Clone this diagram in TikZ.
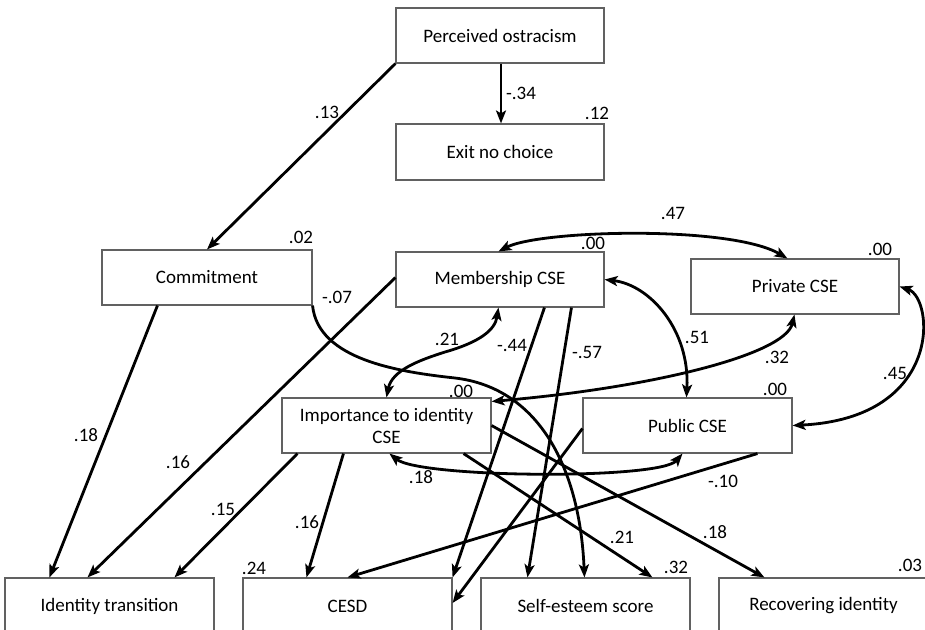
\documentclass[tikz,border=0pt]{standalone}
\usepackage{fontspec}
\setmainfont{Carlito}
\usetikzlibrary{arrows.meta}
\begin{document}
\begin{tikzpicture}[x=1pt,y=-1pt,
  box/.style={draw=black!62, line width=1.1pt, fill=white, minimum height=55pt, inner sep=0pt, align=center, font=\fontsize{19}{22}\selectfont},
  lbl/.style={font=\fontsize{19}{22}\selectfont, inner sep=0pt},
  tip/.tip={Stealth[length=13pt,width=10pt,inset=3pt]},
  path1/.style={line width=2.8pt, -tip},
  path2/.style={line width=2.8pt, tip-tip}]
\useasboundingbox (0,0) rectangle (925,629);
\clip (0,0) rectangle (925,629);
% boxes
\node[box, minimum width=208pt] (perc) at (500,35.5) {Perceived ostracism};
\node[box, minimum width=208pt, minimum height=56pt] (exit) at (500,152) {Exit no choice};
\node[box, minimum width=210pt] (comm) at (207,277.5) {Commitment};
\node[box, minimum width=208pt] (memb) at (500,279.5) {Membership CSE};
\node[box, minimum width=208pt] (priv) at (795,286.5) {Private CSE};
\node[box, minimum width=209pt] (imp) at (386.5,425.5) {Importance to identity\\CSE};
\node[box, minimum width=209pt] (pub) at (687.5,425.5) {Public CSE};
\node[box, minimum width=209pt, minimum height=56pt] (idt) at (109.5,606) {Identity transition};
\node[box, minimum width=209pt, minimum height=56pt] (cesd) at (347.5,606) {CESD};
\node[box, minimum width=209pt, minimum height=56pt] (self) at (585.5,606) {Self-esteem score};
\node[box, minimum width=209pt, minimum height=56pt] (rec) at (823.5,606) {Recovering identity};
% variance labels
\node[lbl] (v12) at (597,113) {.12};
\node[lbl] (v02) at (301,237) {.02};
\node[lbl] (v00m) at (593,243) {.00};
\node[lbl] (v00p) at (880,249) {.00};
\node[lbl] (v00i) at (461,391) {.00};
\node[lbl] (v00u) at (775,389) {.00};
\node[lbl] (v24) at (254,568) {.24};
\node[lbl] (v32) at (676,567) {.32};
\node[lbl] (v03) at (910,565) {.03};
% directed paths
\draw[path1] (perc.south west) -- (comm.north);
\draw[path1] ([xshift=1pt]perc.south) -- ([xshift=1pt]exit.north);
\draw[path1] ([xshift=56pt]comm.south west) -- ([xshift=45pt]idt.north west);
\draw[path1] (comm.south east) .. controls (318,360) and (400,372) .. (455,378)
   .. controls (540,388) and (580,470) .. ([xshift=104pt]self.north west);
\draw[path1] ([yshift=2pt]memb.west) -- ([xshift=83pt]idt.north west);
\draw[path1] ([xshift=16pt]imp.south west) -- ([xshift=170pt]idt.north west);
\draw[path1] ([xshift=62pt]imp.south west) -- ([xshift=64pt]cesd.north west);
\draw[path1] ([xshift=149pt]memb.south west) -- (cesd.north east);
\draw[path1] ([xshift=176pt]memb.south west) -- ([xshift=47pt]self.north west);
\draw[path1] ([yshift=-3pt]pub.west) -- ([yshift=3pt]cesd.east);
\draw[path1] ([xshift=175pt]pub.south west) -- ([xshift=105pt]cesd.north west);
\draw[path1] ([xshift=-28pt]imp.south east) -- ([xshift=172pt]self.north west);
\draw[path1] (imp.east) -- ([xshift=46pt]rec.north west);
% correlations
\draw[path2] ([xshift=105pt]imp.north west) .. controls (392,370) and (420,360) .. (445,352)
   .. controls (480,342) and (495,330) .. ([xshift=103pt]memb.south west);
\draw[path2] ([xshift=103pt]memb.north west) .. controls (540,230) and (730,225) .. ([xshift=97pt]priv.north west);
\draw[path2] (memb.east) .. controls (650,285) and (690,330) .. ([xshift=104pt]pub.north west);
\draw[path2] ([xshift=104pt]priv.south west) .. controls (785,355) and (650,388) .. ([yshift=-4pt]imp.north east);
\draw[path2] (priv.east) .. controls (934,298) and (944,418) .. (pub.east);
\draw[path2] ([xshift=108pt]imp.south west) .. controls (420,478) and (660,480) .. ([xshift=100pt]pub.south west);
% coefficient labels
\node[lbl] (c13) at (327,112) {.13};
\node[lbl] (c34) at (521,93) {-.34};
\node[lbl] (c07) at (337,297) {-.07};
\node[lbl] (c18a) at (86,435) {.18};
\node[lbl] (c16a) at (178,462) {.16};
\node[lbl] (c15) at (223,509) {.15};
\node[lbl] (c16b) at (307,522) {.16};
\node[lbl] (c21a) at (447,339) {.21};
\node[lbl] (c47) at (673,213) {.47};
\node[lbl] (c51) at (697,337) {.51};
\node[lbl] (c32) at (777,357) {.32};
\node[lbl] (c45) at (895,373) {.45};
\node[lbl] (c44) at (512,345) {-.44};
\node[lbl] (c57) at (587,352) {-.57};
\node[lbl] (c18b) at (421,477) {.18};
\node[lbl] (c10) at (723,481) {-.10};
\node[lbl] (c21b) at (622,537) {.21};
\node[lbl] (c18c) at (715,532) {.18};
\end{tikzpicture}
\end{document}
